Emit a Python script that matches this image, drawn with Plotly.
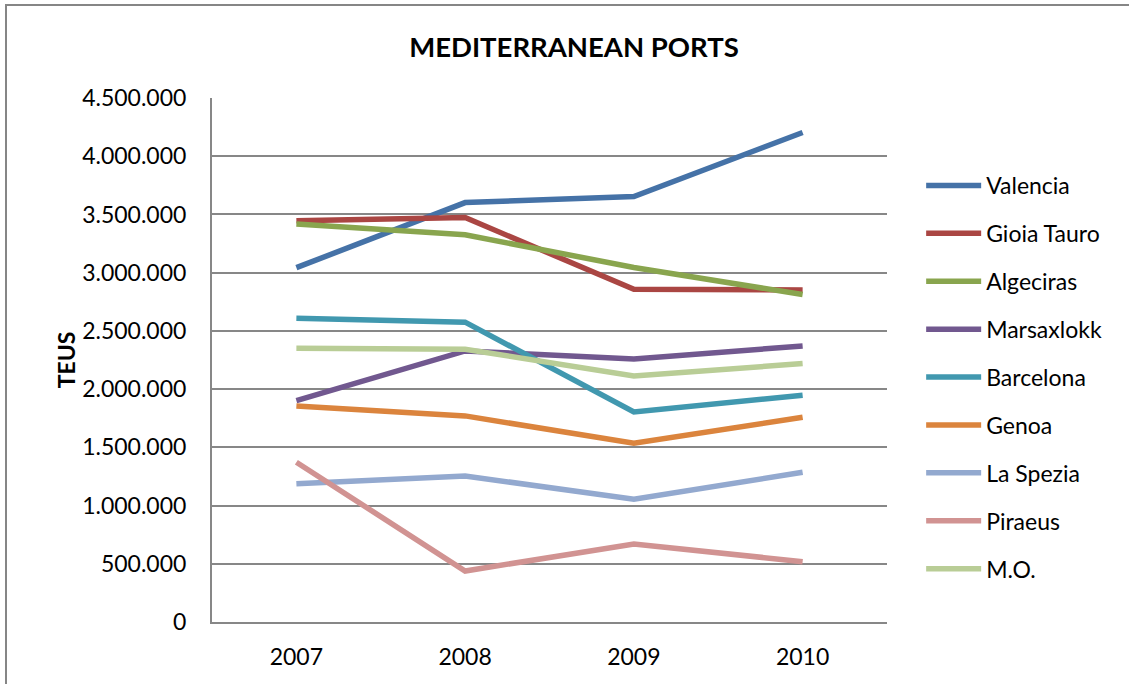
import plotly.graph_objects as go

years = ["2007", "2008", "2009", "2010"]

valencia = [3043000, 3602000, 3654000, 4204000]
gioia_tauro = [3445000, 3473000, 2858000, 2852000]
algeciras = [3417000, 3325000, 3045000, 2812000]
marsaxlokk = [1901000, 2328000, 2259000, 2371000]
barcelona = [2609000, 2575000, 1804000, 1948000]
genoa = [1856000, 1770000, 1535000, 1758000]
la_spezia = [1188000, 1254000, 1054000, 1286000]
piraeus = [1372000, 438000, 670000, 518000]
mo = [2351000, 2343000, 2113000, 2219000]

series = [
    ("Valencia", valencia, "#4572A7"),
    ("Gioia Tauro", gioia_tauro, "#AA4643"),
    ("Algeciras", algeciras, "#89A54E"),
    ("Marsaxlokk", marsaxlokk, "#71588F"),
    ("Barcelona", barcelona, "#4198AF"),
    ("Genoa", genoa, "#DB843D"),
    ("La Spezia", la_spezia, "#93A9CF"),
    ("Piraeus", piraeus, "#D19392"),
    ("M.O.", mo, "#B9CD96"),
]

FONT = "Lato"
GRID = "#878787"

fig = go.Figure()
for name, vals, color in series:
    fig.add_trace(go.Scatter(
        x=years, y=vals, name=name, mode="lines",
        legendgroup=name,
        line=dict(color=color, width=5.5),
    ))

W, H = 1129, 684
L, R, T, B = 212, 887, 98, 622

fig.update_layout(
    width=W, height=H,
    margin=dict(l=L, r=W - R, t=T, b=H - B, autoexpand=False),
    paper_bgcolor="white", plot_bgcolor="white",
    separators=",.",
    font=dict(family=FONT, size=23, color="black"),
    title=dict(
        text="<b>MEDITERRANEAN PORTS</b>",
        x=574 / W, xanchor="center", xref="container",
        y=1 - 47 / H, yanchor="middle", yref="container",
        font=dict(family=FONT, size=27.5, color="black"),
    ),
    showlegend=True,
    legend=dict(
        x=1.0506, xanchor="left", y=0.874, yanchor="top",
        traceorder="grouped", tracegroupgap=15,
        itemwidth=55,
        font=dict(family=FONT, size=23, color="black"),
        bgcolor="rgba(0,0,0,0)",
    ),
    xaxis=dict(
        type="category", range=[-0.5, 3.5],
        showgrid=False, showline=True, linecolor=GRID, linewidth=2,
        ticks="", ticklabelstandoff=13,
        tickfont=dict(family=FONT, size=23),
    ),
    yaxis=dict(
        range=[0, 4500000], dtick=500000, tickformat=",d",
        showgrid=True, gridcolor=GRID, gridwidth=1.5,
        showline=True, linecolor=GRID, linewidth=2,
        zeroline=False, ticks="", ticklabelstandoff=19,
        tickfont=dict(family=FONT, size=23),
        title=dict(text="<b>TEUS</b>", standoff=0,
                   font=dict(family=FONT, size=23)),
    ),
)

# outer chart frame (top and left edges visible)
fig.add_shape(
    type="rect", xref="paper", yref="paper",
    x0=(6 - L) / (R - L), x1=(1140 - L) / (R - L),
    y0=(B - 700) / (B - T), y1=(B - 5) / (B - T),
    line=dict(color="#868686", width=2), fillcolor="rgba(0,0,0,0)",
    layer="below",
)

fig.write_html("out.html")
